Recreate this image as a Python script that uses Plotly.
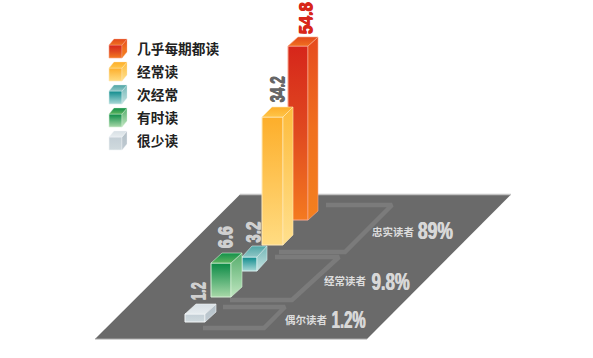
import json
import plotly.graph_objects as go

# ---- data ----
categories = ["几乎每期都读", "经常读", "次经常", "有时读", "很少读"]
values = [54.8, 34.2, 3.2, 6.6, 1.2]
value_labels = ["54.8", "34.2", "3.2", "6.6", "1.2"]
# drawn height of each column (the original is not to linear scale)
drawn_heights = [174, 128, 14, 34, 8]
groups = ["忠实读者", "经常读者", "偶尔读者"]
group_shares = ["89%", "9.8%", "1.2%"]

# ---- geometry / style (not data) ----
W, H = 593, 358
bar_base = [(288, 220), (262, 245), (242, 271), (211, 297), (185, 322)]
bar_width = [20, 21, 15, 20, 20]
bar_depth = [(10, -9), (10, -10), (10, -11), (11, -10), (11, -10)]
draw_order = [0, 1, 2, 3, 4]
label_pos = [(305, 18.5), (276, 90), (252, 233), (224, 238), (197, 292)]
label_size = [18.5, 21, 21, 21, 21]
label_col = ["#d8261a", "#666666", "#d0d0d0", "#d0d0d0", "#d0d0d0"]
front_grad = [("#d6261b", "#e04a20", "#f47a20"), ("#fdae2a", "#ffdc82"), ("#0d8a8c", "#a8d8d6"),
              ("#0a8a45", "#a8d8a8"), ("#c4cfd6", "#d0dade")]
side_grad = [("#e64a1e", "#f0701f", "#f4801f"), ("#fdbb3c", "#ffe08e"), ("#74b8b8", "#c4e2e0"),
             ("#55ad6c", "#c0e6c0"), ("#b4c0c8", "#c0cbd2")]
top_grad = [("#e2491c", "#f07020"), ("#fdae2a", "#ffc548"), ("#4fa5a5", "#8fc6c6"),
            ("#12904a", "#5db35f"), ("#d8e0e5", "#e6ecef")]
edge_col = ["#f9a88e", "#ffe9b8", "#d7efef", "#d7f0d7", "#f2f5f6"]

PLANE = "#6a6a6a"
STRIP = "#7b7b7b"
DIGITS = "Liberation Sans, sans-serif"
CJK = "Noto Sans CJK SC, sans-serif"
# printed length of the condensed display figures
text_lengths = {"54.8": 32, "34.2": 26, "3.2": 21, "6.6": 22, "1.2": 18,
                "89%": 35, "9.8%": 38, "1.2%": 34}

fig = go.Figure()


def poly(pts, grad=None, color=None, line=None, lw=0):
    xs = [p[0] for p in pts] + [pts[0][0]]
    ys = [p[1] for p in pts] + [pts[0][1]]
    kw = dict(x=xs, y=ys, mode="lines", fill="toself", hoverinfo="skip", showlegend=False,
              line=dict(color=line or "rgba(0,0,0,0)", width=lw))
    if grad:
        # with the reversed y axis colour stop 0 lands on the lower edge
        rev = list(grad)[::-1]
        kw["fillgradient"] = dict(type="vertical",
                                  colorscale=[[k / (len(rev) - 1), c] for k, c in enumerate(rev)])
    else:
        kw["fillcolor"] = color
    fig.add_trace(go.Scatter(**kw))


def cuboid(x, y, w, h, dx, dy, i, lw=1.0):
    poly([(x, y), (x + w, y), (x + w, y - h), (x, y - h)], grad=front_grad[i], line=edge_col[i], lw=lw)
    poly([(x + w, y), (x + w + dx, y + dy), (x + w + dx, y - h + dy), (x + w, y - h)], grad=side_grad[i], line=edge_col[i], lw=lw * 0.6)
    poly([(x, y - h), (x + w, y - h), (x + w + dx, y - h + dy), (x + dx, y - h + dy)], grad=top_grad[i], line=edge_col[i], lw=lw * 0.6)


# floor plane
poly([(240, 194.5), (511, 194.5), (367, 339), (95, 339)], color=PLANE)
fig.add_trace(go.Scatter(x=[240, 511], y=[194.5, 194.5], mode="lines", line=dict(color="#c4c4c4", width=1.5),
                         hoverinfo="skip", showlegend=False))
fig.add_trace(go.Scatter(x=[95, 367], y=[339, 339], mode="lines", line=dict(color="#a8a8a8", width=1),
                         hoverinfo="skip", showlegend=False))

# bracket strips on the floor
strips = [
    [(326, 205), (392, 205), (345, 252), (279, 252)],
    [(275, 257), (339, 257), (292, 300), (230, 300)],
    [(223, 307), (285, 307), (264, 328), (203, 328)],
]
for s in strips:
    fig.add_trace(go.Scatter(x=[p[0] for p in s], y=[p[1] for p in s], mode="lines",
                             line=dict(color=STRIP, width=4.5), hoverinfo="skip", showlegend=False))

# columns
for i in draw_order:
    x, y = bar_base[i]
    dx, dy = bar_depth[i]
    cuboid(x, y, bar_width[i], drawn_heights[i], dx, dy, i)

# legend swatches
legend_y = [58, 81, 104, 127, 150]
for i, ly in enumerate(legend_y):
    cuboid(109, ly, 13, 13, 5, -6, i, lw=0.6)

ann = []
for i, cat in enumerate(categories):
    ann.append(dict(x=134.5, y=legend_y[i] - 10.5, text=cat, xanchor="left", yanchor="middle",
                    showarrow=False, font=dict(family=CJK, size=13.7, weight="bold", color="#222222")))
for i, lab in enumerate(value_labels):
    c = label_col[i]
    ann.append(dict(x=label_pos[i][0], y=label_pos[i][1], text=lab, textangle=-90, showarrow=False,
                    xanchor="center", yanchor="middle",
                    font=dict(family=DIGITS, size=label_size[i], weight="bold", color=c,
                              shadow=f"1px 0 0 {c}, 0 1px 0 {c}")))

group_small = [(393, 231), (345, 280), (306, 319)]
group_big = [(435, 230.5), (390, 281), (348, 319)]
for g, s, p, q in zip(groups, group_shares, group_small, group_big):
    ann.append(dict(x=p[0], y=p[1], text=g, showarrow=False, xanchor="center", yanchor="middle",
                    font=dict(family=CJK, size=10.5, weight="bold", color="#dcdcdc")))
    ann.append(dict(x=q[0], y=q[1], text=s, showarrow=False, xanchor="center", yanchor="middle",
                    font=dict(family=DIGITS, size=24, weight="bold", color="#d8d8d8",
                              shadow="1px 0 0 #d8d8d8")))

fig.update_layout(
    width=W, height=H, margin=dict(l=0, r=0, t=0, b=0),
    paper_bgcolor="white", plot_bgcolor="white", showlegend=False, annotations=ann,
    xaxis=dict(range=[0, W], visible=False, fixedrange=True),
    yaxis=dict(range=[H, 0], visible=False, fixedrange=True),
)
post = (
    "document.body.style.margin='0';document.body.style.overflow='hidden';"
    "var L=" + json.dumps(text_lengths) + ";"
    "document.querySelectorAll('text.annotation-text').forEach(function(t){"
    "var n=L[t.textContent];if(n){t.setAttribute('textLength',n);t.setAttribute('lengthAdjust','spacingAndGlyphs');}});"
)
fig.write_html("out.html", config={"displayModeBar": False}, post_script=post)
